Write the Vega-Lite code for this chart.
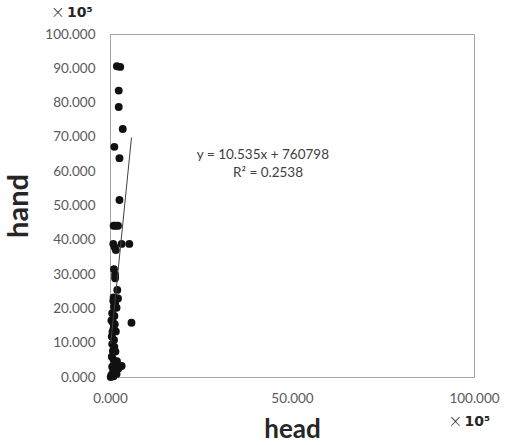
{
  "$schema": "https://vega.github.io/schema/vega-lite/v6.json",
  "width": 364,
  "height": 343,
  "autosize": {"type": "none"},
  "padding": {"left": 110, "top": 34, "right": 37, "bottom": 68},
  "background": "white",
  "config": {
    "view": {"stroke": "#a6a6a6", "strokeWidth": 1},
    "font": "Lato",
    "axis": {"grid": false, "domain": false, "ticks": false, "tickSize": 0, "labelFlush": false, "labelOverlap": false, "labelFont": "Lato", "labelFontSize": 13.5, "labelColor": "#595959", "titleFont": "Lato", "titleColor": "#262626", "titleFontWeight": "bold"}
  },
  "datasets": {
    "pts": [
      {"head": 1.9, "hand": 90.6}, {"head": 2.8, "hand": 90.4}, {"head": 2.4, "hand": 83.5}, {"head": 2.4, "hand": 78.7},
      {"head": 3.5, "hand": 72.3}, {"head": 1.2, "hand": 67.1}, {"head": 2.6, "hand": 63.8}, {"head": 2.6, "hand": 51.6},
      {"head": 1.0, "hand": 44.1}, {"head": 1.6, "hand": 44.1}, {"head": 2.2, "hand": 44.1},
      {"head": 0.9, "hand": 38.8}, {"head": 3.2, "hand": 38.8}, {"head": 5.3, "hand": 38.8},
      {"head": 1.3, "hand": 37.8}, {"head": 1.6, "hand": 37.0}, {"head": 1.1, "hand": 31.4}, {"head": 1.4, "hand": 29.8},
      {"head": 1.4, "hand": 28.8}, {"head": 2.0, "hand": 25.4}, {"head": 1.0, "hand": 23.2}, {"head": 1.6, "hand": 23.0},
      {"head": 2.2, "hand": 22.9}, {"head": 0.9, "hand": 22.2}, {"head": 1.4, "hand": 21.5}, {"head": 1.1, "hand": 20.5},
      {"head": 1.8, "hand": 20.2}, {"head": 0.6, "hand": 18.6}, {"head": 1.2, "hand": 17.8}, {"head": 0.4, "hand": 16.5},
      {"head": 0.8, "hand": 15.9}, {"head": 1.3, "hand": 15.4}, {"head": 5.9, "hand": 15.8}, {"head": 1.0, "hand": 14.2},
      {"head": 0.7, "hand": 13.2}, {"head": 1.6, "hand": 13.3}, {"head": 0.5, "hand": 11.8}, {"head": 1.1, "hand": 10.8},
      {"head": 0.6, "hand": 9.6}, {"head": 1.2, "hand": 8.8}, {"head": 0.8, "hand": 7.6}, {"head": 1.5, "hand": 7.4},
      {"head": 0.5, "hand": 5.9}, {"head": 1.0, "hand": 5.0}, {"head": 1.9, "hand": 4.6}, {"head": 3.2, "hand": 3.2},
      {"head": 0.6, "hand": 3.0}, {"head": 2.3, "hand": 2.5}, {"head": 0.9, "hand": 1.8}, {"head": 1.6, "hand": 1.5},
      {"head": 0.4, "hand": 0.6}, {"head": 1.0, "hand": 0.2}, {"head": 0.2, "hand": 0.0}, {"head": 1.8, "hand": 0.9}
    ],
    "trend": [
      {"head": 0.2, "hand": 9.7}, {"head": 5.9, "hand": 69.8}
    ],
    "labels": [
      {"head": 42, "hand": 64.7, "text": "y = 10.535x + 760798"},
      {"head": 43.4, "hand": 59.6, "text": "R² = 0.2538"}
    ],
    "mult": [
      {"head": -11, "hand": 106.1},
      {"head": 98.2, "hand": -13}
    ]
  },
  "encoding": {
    "x": {"field": "head", "type": "quantitative", "scale": {"domain": [0, 100], "nice": false, "zero": false},
          "axis": {"values": [0, 50, 100], "format": ".3f", "labelPadding": 14, "labelOverlap": false, "title": "head", "titleFontSize": 26, "titlePadding": 12}},
    "y": {"field": "hand", "type": "quantitative", "scale": {"domain": [0, 100], "nice": false, "zero": false},
          "axis": {"values": [0, 10, 20, 30, 40, 50, 60, 70, 80, 90, 100], "format": ".3f", "labelPadding": 15, "labelOverlap": false, "title": "hand", "titleFontSize": 29, "titlePadding": 11}}
  },
  "layer": [
    {
      "data": {"name": "pts"},
      "mark": {"type": "point", "filled": true, "size": 62, "color": "#111111", "opacity": 1}
    },
    {
      "data": {"name": "trend"},
      "mark": {"type": "line", "color": "#404040", "strokeWidth": 1}
    },
    {
      "data": {"name": "labels"},
      "mark": {"type": "text", "fontSize": 13.5, "color": "#404040", "align": "center", "baseline": "middle", "font": "Lato"},
      "encoding": {"text": {"field": "text"}}
    },
    {
      "data": {"name": "mult"},
      "mark": {"type": "text", "fontSize": 17, "color": "#404040", "align": "right", "baseline": "middle", "dx": -5, "font": "DejaVu Sans", "fontWeight": 300, "text": "×"}
    },
    {
      "data": {"name": "mult"},
      "mark": {"type": "text", "fontSize": 14, "fontWeight": "bold", "color": "#262626", "align": "left", "baseline": "middle", "dx": -3, "font": "DejaVu Sans", "text": "10⁵"}
    }
  ]
}
